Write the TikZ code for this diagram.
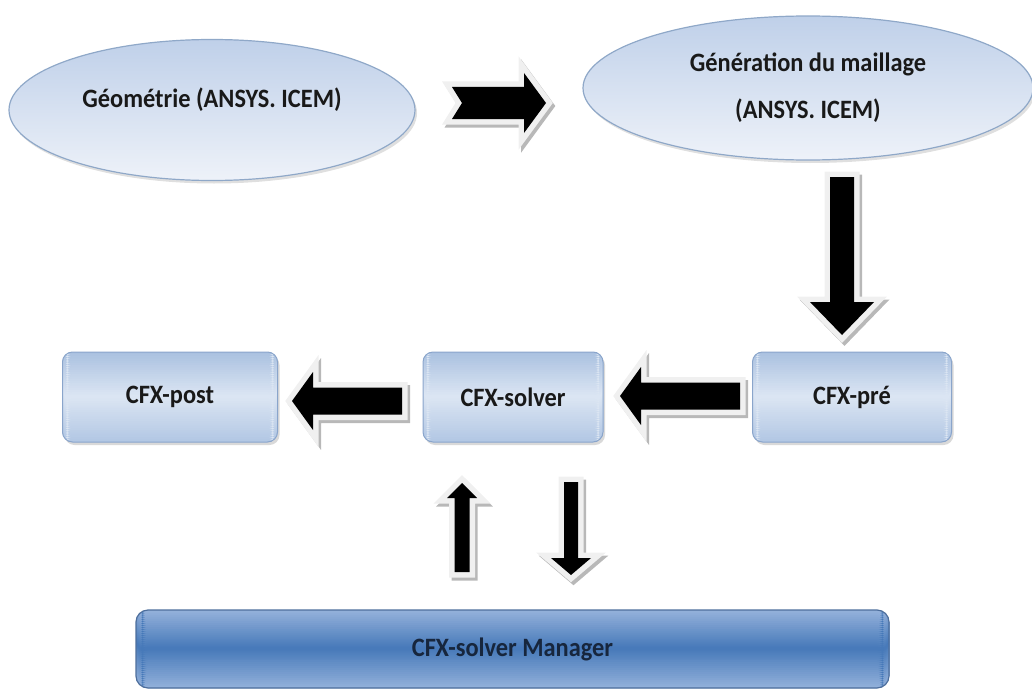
\documentclass[tikz,border=0pt]{standalone}
\usepackage{fontspec}
\setmainfont{Carlito}[FakeStretch=0.92]
\usetikzlibrary{shapes.geometric,calc,shadows}
\definecolor{ellTop}{HTML}{BFD0E9}
\definecolor{ellBot}{HTML}{EEF2F9}
\definecolor{ellLine}{HTML}{8FA8C8}
\definecolor{boxTop}{HTML}{A9C0E0}
\definecolor{boxMid}{HTML}{DCE6F3}
\definecolor{boxBot}{HTML}{B2C7E4}
\definecolor{boxLine}{HTML}{8AA5CB}
\definecolor{mgrTop}{HTML}{97B3DC}
\definecolor{mgrMid}{HTML}{4679B9}
\definecolor{mgrBot}{HTML}{92B0DA}
\definecolor{mgrLine}{HTML}{4D6E9C}
\definecolor{mgrText}{HTML}{17263D}
\definecolor{arrOut}{HTML}{F0F0F0}
\definecolor{arrShade}{HTML}{B8B8B8}
\tikzset{
  lbl/.style={font=\fontsize{26.5}{31}\selectfont\bfseries, text=black!90},
  twoshade/.style n args={3}{path picture={
    \foreach \i in {0,...,39}{%
      \pgfmathsetmacro\sT{(\i+0.5)/40}%
      \pgfmathsetmacro\pA{min(100,200*\sT)}%
      \pgfmathsetmacro\pB{max(0,200*\sT-100)}%
      \ifdim\sT pt<0.5pt \def\col{#2!\pA!#1}\else\def\col{#3!\pB!#2}\fi
      \fill[fill=\col] let \p1=(path picture bounding box.north west),
          \p2=(path picture bounding box.south east) in
        (\x1,{\y1-\i*(\y1-\y2)/40+0.5pt}) rectangle (\x2,{\y1-(\i+1)*(\y1-\y2)/40-0.5pt});
    }}},
  ell/.style={ellipse, lbl, draw=ellLine, line width=1.2pt, inner sep=0pt,
    top color=ellTop, bottom color=ellBot,
    drop shadow={opacity=0.25, shadow xshift=2pt, shadow yshift=-3pt}},
  box/.style={rectangle, rounded corners=10pt, lbl, draw=boxLine, line width=1pt,
    fill=boxMid, twoshade={boxTop}{boxMid}{boxBot},
    drop shadow={opacity=0.3, shadow xshift=2pt, shadow yshift=-3pt}},
  mgr/.style={rectangle, rounded corners=12pt, lbl, text=mgrText, draw=mgrLine, line width=1.2pt,
    fill=mgrMid, twoshade={mgrTop}{mgrMid}{mgrBot}},
  barrow/.style={fill=black, line join=miter,
    preaction={draw=arrShade, fill=arrShade, line width=11pt, line join=miter,
      transform canvas={shift={(2.5pt,-3pt)}}},
    preaction={draw=arrOut, fill=arrOut, line width=11pt, line join=miter}}
}
% #1 from, #2 to, #3 half shaft, #4 half head, #5 head length, #6 notch depth
\newcommand\blockarrow[6]{%
  \coordinate (hb) at ($(#2)!#5!(#1)$);
  \coordinate (nt) at ($(#1)!#6!(#2)$);
  \path[barrow] ($(#1)!#3!90:(#2)$) -- ($(hb)!#3!90:(#2)$) -- ($(hb)!#4!90:(#2)$)
    -- (#2) -- ($(hb)!#4!-90:(#2)$) -- ($(hb)!#3!-90:(#2)$) -- ($(#1)!#3!-90:(#2)$)
    -- (nt) -- cycle;
}
\begin{document}
\begin{tikzpicture}[x=1pt,y=-1pt]
\useasboundingbox (0,0) rectangle (1032,690);
% nodes
\node[ell, minimum width=406pt, minimum height=141pt, text height=18pt, text depth=24pt]
  (geo) at (212,110) {Géométrie (ANSYS. ICEM)};
\node[ell, minimum width=450pt, minimum height=144pt, align=center,
  font=\fontsize{26.5}{47}\selectfont\bfseries]
  (gen) at (808,88) {Génération du maillage\\(ANSYS. ICEM)};
\node[box, minimum width=215pt, minimum height=90pt] (post) at (170,397) {CFX-post};
\node[box, minimum width=180pt, minimum height=90pt] (solver) at (513,397) {CFX-solver};
\node[box, minimum width=199pt, minimum height=90pt] (pre) at (852,397) {CFX-pré};
\node[mgr, minimum width=753pt, minimum height=78pt] (man) at (512.5,649) {CFX-solver Manager};
% arrow end points
\coordinate (a1s) at (452,103);  \coordinate (a1e) at (546,103);
\coordinate (a2s) at (842,177);  \coordinate (a2e) at (842,335);
\coordinate (a3s) at (740,396);  \coordinate (a3e) at (620,396);
\coordinate (a4s) at (402,401);  \coordinate (a4e) at (292,401);
\coordinate (a5s) at (462,572);  \coordinate (a5e) at (462,483);
\coordinate (a6s) at (571,482);  \coordinate (a6e) at (571,575);
\blockarrow{a1s}{a1e}{16pt}{30pt}{22pt}{10pt}
\blockarrow{a2s}{a2e}{12pt}{32pt}{33pt}{0pt}
\blockarrow{a3s}{a3e}{13.5pt}{29pt}{21pt}{0pt}
\blockarrow{a4s}{a4e}{13.5pt}{29pt}{21pt}{0pt}
\blockarrow{a5s}{a5e}{7.5pt}{15pt}{15pt}{0pt}
\blockarrow{a6s}{a6e}{7pt}{20pt}{17pt}{0pt}
\end{tikzpicture}
\end{document}
